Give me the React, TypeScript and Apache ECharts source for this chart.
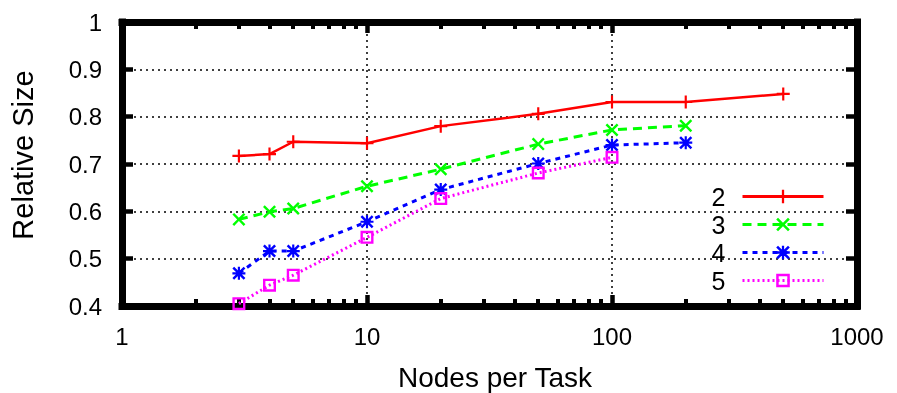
import React, { useEffect, useRef } from "react";
import * as echarts from "echarts";

const xs2 = [3, 4, 5, 10, 20, 50, 100, 200, 500];
const ys2 = [0.717, 0.721, 0.747, 0.744, 0.78, 0.806, 0.831, 0.831, 0.848];
const xs3 = [3, 4, 5, 10, 20, 50, 100, 200];
const ys3 = [0.583, 0.599, 0.606, 0.653, 0.689, 0.742, 0.772, 0.781];
const xs4 = [3, 4, 5, 10, 20, 50, 100, 200];
const ys4 = [0.469, 0.516, 0.516, 0.578, 0.646, 0.701, 0.74, 0.745];
const xs5 = [3, 4, 5, 10, 20, 50, 100];
const ys5 = [0.405, 0.444, 0.465, 0.545, 0.627, 0.681, 0.714];

const seriesNames = ["2", "3", "4", "5"];
const majorX = [1, 10, 100, 1000];
const minorX = [2, 3, 4, 5, 6, 7, 8, 9, 20, 30, 40, 50, 60, 70, 80, 90, 200, 300, 400, 500, 600, 700, 800, 900];
const xTitle = "Nodes per Task";
const yTitle = "Relative Size";

const FONT = "Liberation Sans, Arial, Helvetica, sans-serif";

const PLUS = "path://M5,0H7V5H12V7H7V12H5V7H0V5H5Z";
const CROSS = "path://M0,1.6L1.6,0L6,4.4L10.4,0L12,1.6L7.6,6L12,10.4L10.4,12L6,7.6L1.6,12L0,10.4L4.4,6Z";
const STAR = "path://M5,0H7V5H12V7H7V12H5V7H0V5H5Z M0,1.6L1.6,0L6,4.4L10.4,0L12,1.6L7.6,6L12,10.4L10.4,12L6,7.6L1.6,12L0,10.4L4.4,6Z";
const SQUARE = "path://M0,0H12V12H0Z M2.2,2.2V9.8H9.8V2.2Z";

export default function App() {
  const ref = useRef<HTMLDivElement>(null);
  useEffect(() => {
    if (!ref.current) return;
    const chart = echarts.init(ref.current, null, { renderer: "svg" });
    const zip = (a: number[], b: number[]) => a.map((x, i) => [x, b[i]]);
    const dotted = { color: "#000", width: 1.5, type: [2, 4] as any };
    const line = { show: true, lineStyle: { color: "#000", width: 7, cap: "square" } };
    const majTick = (vals?: number[]) => ({ show: true, inside: true, length: 11, lineStyle: { color: "#000", width: 4.5 }, ...(vals ? { customValues: vals } : {}) });
    const minTick = (vals: number[]) => ({ show: true, inside: true, length: 7, lineStyle: { color: "#000", width: 4 }, customValues: vals });
    const logX = { type: "log", logBase: 10, min: 1, max: 1000 };
    const mk = (name: string, xs: number[], ys: number[], color: string, type: any, symbol: string, size: number, width: number) => ({
      name,
      type: "line",
      data: zip(xs, ys),
      symbol,
      symbolSize: size,
      clip: false,
      lineStyle: { color, width, type },
      itemStyle: { color },
    });
    chart.setOption({
      animation: false,
      textStyle: { fontFamily: FONT },
      grid: { left: 122, top: 22, right: 40, bottom: 87 },
      legend: {
        orient: "vertical",
        right: 67,
        top: 179,
        align: "right",
        itemWidth: 81,
        itemHeight: 17,
        itemGap: 3,
        data: seriesNames,
        lineStyle: { width: 3 },
        textStyle: { fontSize: 25, fontFamily: FONT, color: "#000", lineHeight: 24, padding: [0, 12, 0, 0] },
      },
      graphic: [
        { type: "text", x: 495, y: 377, style: { text: xTitle, fontSize: 28, fontFamily: FONT, fill: "#000", align: "center", verticalAlign: "middle" } },
        { type: "text", x: 23, y: 155, rotation: Math.PI / 2, style: { text: yTitle, fontSize: 29, fontFamily: FONT, fill: "#000", align: "center", verticalAlign: "middle" } },
      ],
      xAxis: [
        {
          ...logX, position: "bottom",
          axisLine: line,
          axisTick: majTick(majorX),
          axisLabel: { show: true, fontSize: 24, fontFamily: FONT, color: "#000", margin: 18, formatter: (v: number) => String(Math.round(v)) },
          splitLine: { show: true, lineStyle: dotted },
        },
        { ...logX, position: "bottom", axisLine: { show: false }, axisTick: minTick(minorX), axisLabel: { show: false }, splitLine: { show: false } },
        { ...logX, position: "top", axisLine: line, axisTick: majTick(majorX), axisLabel: { show: false }, splitLine: { show: false } },
        { ...logX, position: "top", axisLine: { show: false }, axisTick: minTick(minorX), axisLabel: { show: false }, splitLine: { show: false } },
      ],
      yAxis: [
        {
          type: "value", min: 0.4, max: 1, interval: 0.1, position: "left",
          axisLine: line,
          axisTick: majTick(),
          axisLabel: { fontSize: 24, fontFamily: FONT, color: "#000", margin: 20 },
          splitLine: { show: true, lineStyle: dotted },
        },
        {
          type: "value", min: 0.4, max: 1, interval: 0.1, position: "right",
          axisLine: line,
          axisTick: majTick(),
          axisLabel: { show: false },
          splitLine: { show: false },
        },
      ],
      series: [
        mk("2", xs2, ys2, "#ff0000", "solid", PLUS, 13, 2.5),
        mk("3", xs3, ys3, "#00ff00", [9, 6], CROSS, 13, 3),
        mk("4", xs4, ys4, "#0000ff", [5, 5], STAR, 13, 3),
        mk("5", xs5, ys5, "#ff00ff", [2, 3], SQUARE, 13, 3),
      ],
    });
    return () => chart.dispose();
  }, []);
  return <div ref={ref} style={{ position: "fixed", left: 0, top: 0, width: 897, height: 393 }} />;
}
